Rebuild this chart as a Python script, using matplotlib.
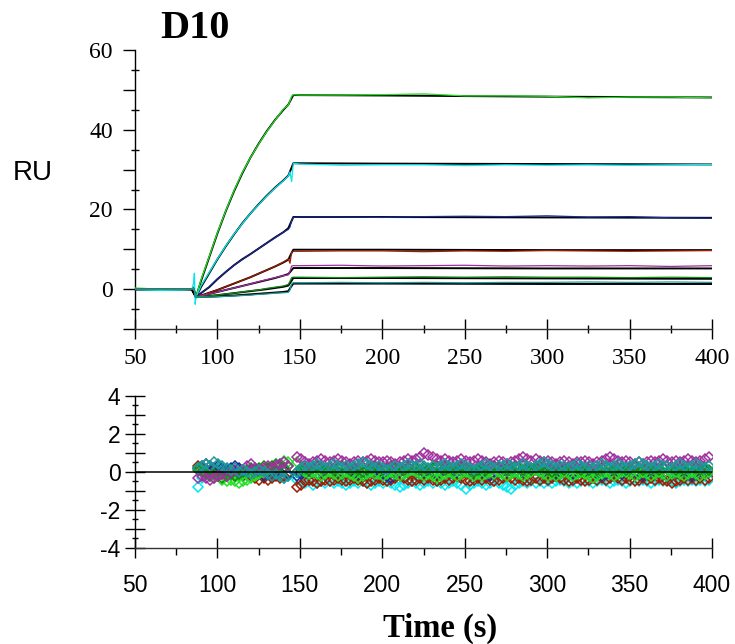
import matplotlib
matplotlib.use('Agg')
import matplotlib.pyplot as plt
from matplotlib.ticker import MultipleLocator
import numpy as np

# ---- sensorgram data (RU) ----
t_data = [50, 65, 80, 84.5, 85.5, 86, 86.5, 87, 90, 95, 100, 105, 110, 115, 120, 125, 130,
          135, 140, 143, 144, 145, 146, 150, 175, 200, 225, 250, 275, 300, 325, 350, 375, 400]
green_data = [0.3, 0.0, 0.0, 0.0, 0.6, -0.4, -1.4, -2.0, 2.3, 8.2, 14.2, 19.6, 24.7, 29.2, 33.0, 36.4, 39.6,
              42.4, 45.2, 46.2, 47.2, 48.4, 48.8, 48.7, 48.7, 48.8, 49.0, 48.5, 48.5, 48.4, 48.0, 48.2, 48.2, 48.0]
cyan_data = [-0.1, -0.3, -0.2, 0.0, 1.5, 4.0, -3.8, -2.0, 0.8, 4.2, 7.6, 10.8, 13.8, 16.4, 19.0, 21.2, 23.4,
             25.4, 27.2, 28.4, 29.4, 27.0, 31.6, 31.4, 31.1, 31.2, 31.2, 31.0, 31.2, 31.1, 31.2, 31.1, 31.2, 31.3]
navy_data = [0.1, 0.0, 0.0, 0.0, 0.3, -0.3, -1.2, -2.0, -1.0, 0.6, 2.6, 4.3, 6.0, 7.4, 8.8, 10.2, 11.6,
             12.9, 14.3, 15.0, 15.6, 17.2, 18.0, 18.1, 18.1, 18.0, 18.2, 18.3, 18.2, 18.4, 18.1, 18.2, 17.9, 17.8]
red_data = [0.0, 0.0, 0.1, 0.0, 0.2, -0.3, -1.2, -2.0, -1.6, -0.9, -0.2, 0.6, 1.4, 2.2, 3.0, 3.9, 4.8,
            5.7, 6.8, 7.6, 6.5, 9.3, 9.5, 9.5, 9.6, 9.6, 9.4, 9.6, 9.5, 9.7, 9.6, 9.5, 9.6, 9.7]
purple_data = [0.0, 0.0, 0.0, 0.0, 0.2, -0.3, -1.2, -2.0, -1.7, -1.2, -0.7, -0.2, 0.3, 0.8, 1.3, 1.9, 2.4,
               2.9, 3.4, 3.6, 4.5, 5.8, 5.9, 5.9, 6.0, 5.8, 5.9, 6.0, 5.8, 5.9, 5.8, 5.9, 5.7, 5.9]
dgreen_data = [0.0, 0.0, 0.0, 0.0, 0.2, -0.3, -1.2, -2.0, -1.9, -1.7, -1.5, -1.2, -1.0, -0.7, -0.4, -0.2, 0.2,
               0.5, 0.8, 1.2, 2.0, 2.9, 3.0, 3.0, 2.9, 3.0, 3.1, 3.0, 3.1, 3.0, 3.0, 2.9, 3.0, 2.9]
teal_data = [0.0, 0.0, 0.0, 0.0, 0.2, -0.3, -1.2, -2.0, -2.0, -2.0, -1.9, -1.8, -1.7, -1.6, -1.5, -1.3, -1.2,
             -1.0, -0.9, -0.8, -0.2, 1.3, 1.6, 1.6, 1.7, 1.6, 1.7, 1.6, 1.7, 1.7, 1.8, 1.7, 1.8, 1.7]

# ---- fitted curves ----
t_fit = [50, 84.5, 87, 90, 95, 100, 105, 110, 115, 120, 125, 130, 135, 140, 143, 144.5, 146, 200, 300, 400]
green_fit = [0, 0, -2, 2, 8, 14, 19.5, 24.5, 29, 33, 36.5, 39.7, 42.5, 45, 46.3, 47.5, 48.7, 48.6, 48.3, 48.1]
cyan_fit = [0, 0, -2, 0.5, 4, 7.5, 10.7, 13.7, 16.5, 19, 21.3, 23.5, 25.5, 27.3, 28.5, 30, 31.6, 31.5, 31.4, 31.3]
navy_fit = [0, 0, -2, -1, 0.5, 2.5, 4.3, 6, 7.5, 8.8, 10.2, 11.6, 13, 14.3, 15.3, 16.7, 18.1, 18.1, 18.0, 17.9]
red_fit = [0, 0, -2, -1.6, -0.9, -0.2, 0.6, 1.4, 2.2, 3, 3.9, 4.8, 5.7, 6.7, 7.4, 8.7, 9.9, 9.9, 9.8, 9.8]
purple_fit = [0, 0, -2, -1.7, -1.2, -0.7, -0.2, 0.3, 0.8, 1.3, 1.8, 2.3, 2.8, 3.4, 3.8, 4.5, 5.3, 5.3, 5.2, 5.2]
dgreen_fit = [0, 0, -2, -1.9, -1.7, -1.5, -1.25, -1.0, -0.75, -0.5, -0.25, 0, 0.3, 0.6, 0.9, 1.8, 2.8, 2.8, 2.7, 2.6]
teal_fit = [0, 0, -2, -1.95, -1.9, -1.8, -1.7, -1.6, -1.45, -1.3, -1.15, -1.0, -0.85, -0.7, -0.5, 0.5, 1.4, 1.4, 1.3, 1.3]

# ---- residuals (RU), sampled every 2.5 s ----
t_res_assoc = np.arange(88, 144, 2.5)     # 23 points
t_res_dissoc = np.arange(148, 399, 2.5)   # 101 points
res_assoc = {
    'purple': [-0.3, -0.2, -0.3, -0.4, -0.3, -0.2, -0.1, -0.2, 0.0, 0.1, 0.0, 0.1, 0.3, 0.4, 0.2, 0.1,
               0.2, 0.3, 0.2, 0.3, 0.4, 0.5, 0.3],
    'teal':   [0.2, 0.3, 0.4, 0.3, 0.5, 0.4, 0.3, 0.2, 0.1, 0.2, 0.0, 0.1, 0.0, -0.1, 0.0, 0.1,
               0.0, -0.1, -0.2, -0.1, -0.2, -0.3, -0.2],
    'green':  [0.2, 0.1, -0.1, -0.2, -0.3, -0.2, -0.4, -0.5, -0.4, -0.5, -0.6, -0.5, -0.4, -0.3, -0.2, -0.1,
               0.0, 0.1, 0.2, 0.3, 0.4, 0.6, 0.5],
    'dgreen': [0.1, 0.0, -0.1, -0.2, -0.1, -0.2, -0.3, -0.2, -0.1, -0.2, -0.1, 0.0, 0.1, 0.2, 0.1, 0.2,
               0.3, 0.2, 0.3, 0.4, 0.3, 0.2, 0.3],
    'navy':   [0.2, 0.3, 0.4, 0.3, 0.2, 0.3, 0.2, 0.1, 0.2, 0.3, 0.2, 0.1, 0.0, 0.1, 0.0, -0.1,
               -0.2, -0.1, -0.2, -0.1, 0.0, 0.1, -0.1],
    'red':    [0.3, 0.2, 0.1, 0.0, 0.1, 0.0, -0.1, 0.0, -0.1, -0.2, -0.1, -0.2, -0.1, -0.2, -0.3, -0.4,
               -0.3, -0.4, -0.3, -0.2, -0.3, -0.2, -0.1],
    'cyan':   [-0.8, -0.3, 0.0, 0.1, 0.2, 0.1, 0.0, 0.1, 0.0, -0.1, 0.0, -0.1, -0.2, -0.1, 0.0, -0.1,
               0.0, -0.1, -0.2, -0.1, -0.2, -0.3, -0.2],
}
res_dissoc = {
    'purple': [0.8, 0.7, 0.5, 0.4, 0.5, 0.6, 0.7, 0.6, 0.5, 0.6,
               0.7, 0.6, 0.5, 0.4, 0.5, 0.6, 0.5, 0.6, 0.7, 0.6,
               0.5, 0.5, 0.6, 0.5, 0.4, 0.5, 0.6, 0.7, 0.6, 0.7,
               0.8, 1.0, 0.9, 0.8, 0.7, 0.6, 0.7, 0.6, 0.5, 0.6,
               0.7, 0.6, 0.5, 0.6, 0.7, 0.6, 0.5, 0.4, 0.5, 0.6,
               0.5, 0.4, 0.5, 0.6, 0.7, 0.8, 0.7, 0.6, 0.7, 0.6,
               0.5, 0.6, 0.5, 0.4, 0.5, 0.6, 0.5, 0.4, 0.5, 0.5,
               0.6, 0.5, 0.4, 0.5, 0.6, 0.7, 0.8, 0.7, 0.6, 0.5,
               0.6, 0.5, 0.4, 0.5, 0.4, 0.5, 0.6, 0.5, 0.6, 0.7,
               0.6, 0.5, 0.6, 0.5, 0.6, 0.7, 0.6, 0.5, 0.6, 0.7, 0.8],
    'teal':   [0.0, 0.2, 0.3, 0.2, 0.3, 0.4, 0.3, 0.2, 0.3, 0.4,
               0.3, 0.2, 0.3, 0.2, 0.3, 0.4, 0.5, 0.4, 0.3, 0.2,
               0.3, 0.2, 0.1, 0.2, 0.3, 0.2, 0.3, 0.4, 0.3, 0.3,
               0.4, 0.3, 0.2, 0.3, 0.2, 0.3, 0.4, 0.3, 0.2, 0.3,
               0.4, 0.3, 0.2, 0.1, 0.2, 0.3, 0.4, 0.3, 0.2, 0.3,
               0.3, 0.4, 0.3, 0.2, 0.3, 0.4, 0.3, 0.2, 0.3, 0.4,
               0.5, 0.4, 0.3, 0.2, 0.3, 0.3, 0.2, 0.3, 0.4, 0.3,
               0.2, 0.3, 0.2, 0.3, 0.4, 0.3, 0.2, 0.3, 0.4, 0.3,
               0.2, 0.3, 0.4, 0.5, 0.4, 0.3, 0.2, 0.3, 0.4, 0.3,
               0.3, 0.2, 0.3, 0.4, 0.3, 0.2, 0.3, 0.4, 0.3, 0.2, 0.3],
    'green':  [0.5, 0.2, 0.0, -0.1, 0.0, -0.1, -0.2, -0.1, 0.0, -0.1,
               -0.2, -0.1, 0.0, -0.1, -0.2, -0.3, -0.2, -0.1, 0.0, -0.1,
               -0.1, -0.2, -0.1, 0.0, -0.1, -0.2, -0.1, 0.0, 0.1, 0.0,
               -0.1, -0.2, -0.1, -0.2, -0.3, -0.2, -0.1, 0.0, -0.1, -0.2,
               -0.1, 0.0, -0.1, -0.2, -0.1, -0.2, -0.1, 0.0, -0.1, 0.0,
               -0.1, -0.2, -0.1, 0.0, -0.1, -0.2, -0.1, 0.0, 0.1, 0.0,
               -0.1, -0.2, -0.1, -0.2, -0.1, 0.0, -0.1, -0.2, -0.1, 0.0,
               -0.1, -0.2, -0.3, -0.2, -0.1, 0.0, -0.1, -0.2, -0.1, 0.0,
               0.0, -0.1, -0.2, -0.1, 0.0, -0.1, -0.2, -0.1, 0.0, -0.1,
               -0.2, -0.1, 0.0, -0.1, -0.2, -0.1, 0.0, -0.1, -0.2, -0.1, 0.0],
    'dgreen': [0.0, 0.1, 0.2, 0.1, 0.2, 0.3, 0.2, 0.1, 0.2, 0.1,
               0.2, 0.3, 0.2, 0.1, 0.2, 0.1, 0.0, 0.1, 0.2, 0.3,
               0.2, 0.1, 0.2, 0.3, 0.2, 0.2, 0.1, 0.2, 0.3, 0.2,
               0.1, 0.2, 0.1, 0.2, 0.3, 0.2, 0.1, 0.2, 0.1, 0.2,
               0.3, 0.2, 0.1, 0.0, 0.1, 0.2, 0.1, 0.2, 0.3, 0.2,
               0.2, 0.1, 0.2, 0.3, 0.2, 0.1, 0.2, 0.1, 0.2, 0.3,
               0.2, 0.1, 0.0, 0.1, 0.2, 0.1, 0.2, 0.3, 0.2, 0.1,
               0.2, 0.1, 0.2, 0.1, 0.2, 0.3, 0.2, 0.1, 0.2, 0.2,
               0.1, 0.2, 0.3, 0.2, 0.1, 0.2, 0.1, 0.2, 0.1, 0.2,
               0.3, 0.2, 0.1, 0.2, 0.1, 0.2, 0.3, 0.2, 0.1, 0.2, 0.1],
    'navy':   [-0.2, -0.1, 0.0, 0.1, 0.0, -0.1, 0.0, 0.1, 0.0, 0.1,
               0.0, -0.1, 0.0, 0.1, 0.0, -0.1, -0.2, -0.1, 0.0, 0.1,
               0.0, -0.1, -0.2, -0.3, -0.1, 0.0, 0.1, 0.0, 0.1, 0.0,
               -0.1, 0.0, 0.1, 0.0, -0.1, 0.0, 0.1, 0.0, -0.1, 0.0,
               0.1, 0.0, -0.1, 0.0, 0.1, 0.0, -0.1, -0.2, -0.1, 0.0,
               0.1, 0.0, 0.1, 0.0, -0.1, 0.0, 0.1, 0.2, 0.1, 0.0,
               0.0, 0.1, 0.0, -0.1, 0.0, 0.1, 0.0, -0.1, 0.0, 0.1,
               0.0, 0.1, 0.0, -0.1, -0.2, -0.1, 0.0, 0.1, 0.0, -0.1,
               0.0, 0.1, 0.0, -0.1, -0.2, -0.1, 0.0, 0.1, 0.0, -0.1,
               -0.2, -0.1, 0.0, 0.1, 0.0, -0.1, -0.2, -0.1, 0.0, 0.1, 0.0],
    'red':    [-0.8, -0.7, -0.5, -0.4, -0.5, -0.6, -0.5, -0.4, -0.5, -0.4,
               -0.3, -0.4, -0.5, -0.4, -0.3, -0.4, -0.5, -0.6, -0.5, -0.4,
               -0.3, -0.4, -0.5, -0.4, -0.3, -0.2, -0.3, -0.4, -0.5, -0.4,
               -0.3, -0.4, -0.3, -0.4, -0.5, -0.4, -0.3, -0.4, -0.3, -0.2,
               -0.3, -0.4, -0.5, -0.4, -0.3, -0.4, -0.3, -0.4, -0.5, -0.4,
               -0.3, -0.2, -0.3, -0.4, -0.3, -0.4, -0.5, -0.4, -0.3, -0.4,
               -0.3, -0.4, -0.3, -0.2, -0.3, -0.4, -0.5, -0.4, -0.3, -0.4,
               -0.5, -0.4, -0.3, -0.4, -0.3, -0.4, -0.3, -0.2, -0.3, -0.4,
               -0.3, -0.4, -0.5, -0.4, -0.3, -0.4, -0.3, -0.4, -0.3, -0.4,
               -0.5, -0.6, -0.5, -0.4, -0.3, -0.4, -0.3, -0.4, -0.3, -0.4, -0.3],
    'cyan':   [-0.4, -0.5, -0.6, -0.5, -0.7, -0.6, -0.5, -0.6, -0.5, -0.6,
               -0.5, -0.6, -0.7, -0.6, -0.5, -0.6, -0.5, -0.6, -0.7, -0.6,
               -0.5, -0.6, -0.5, -0.6, -0.7, -0.8, -0.7, -0.6, -0.5, -0.6,
               -0.7, -0.6, -0.5, -0.6, -0.5, -0.6, -0.7, -0.6, -0.5, -0.6,
               -0.7, -0.9, -0.7, -0.6, -0.5, -0.6, -0.7, -0.6, -0.5, -0.6,
               -0.7, -0.8, -0.9, -0.7, -0.6, -0.5, -0.6, -0.5, -0.6, -0.5,
               -0.6, -0.5, -0.6, -0.5, -0.4, -0.5, -0.6, -0.5, -0.6, -0.5,
               -0.4, -0.5, -0.6, -0.5, -0.4, -0.5, -0.6, -0.5, -0.4, -0.5,
               -0.6, -0.5, -0.4, -0.5, -0.4, -0.5, -0.6, -0.5, -0.4, -0.5,
               -0.4, -0.5, -0.6, -0.5, -0.4, -0.5, -0.4, -0.5, -0.4, -0.5, -0.4],
}

colors = {'green': '#22e022', 'cyan': '#00e8f0', 'navy': '#1a2a9a', 'red': '#a01c00',
          'purple': '#a030a0', 'dgreen': '#108a10', 'teal': '#1a9a9a'}

series = [('green', green_data, green_fit), ('cyan', cyan_data, cyan_fit),
          ('navy', navy_data, navy_fit), ('red', red_data, red_fit),
          ('purple', purple_data, purple_fit), ('dgreen', dgreen_data, dgreen_fit),
          ('teal', teal_data, teal_fit)]

SERIF = 'Liberation Serif'
SANS = 'Liberation Sans'

fig = plt.figure(figsize=(7.35, 6.44), dpi=100)
ax1 = fig.add_axes([0.1837, 0.4891, 0.785, 0.4332])
ax2 = fig.add_axes([0.1837, 0.1491, 0.785, 0.236])

# black fits under the coloured measured curves
for name, d, f in series:
    ax1.plot(t_fit, f, color='black', lw=1.4, zorder=2)
for name, d, f in series:
    ax1.plot(t_data, d, color=colors[name], lw=0.9, zorder=3)

ax1.set_xlim(50, 400)
ax1.set_ylim(-10, 60)
ax1.xaxis.set_major_locator(MultipleLocator(50))
ax1.xaxis.set_minor_locator(MultipleLocator(25))
ax1.yaxis.set_minor_locator(MultipleLocator(5))
ax1.set_yticks([-10, 0, 10, 20, 30, 40, 50, 60])
ax1.set_yticklabels(['', '0', '', '20', '', '40', '', '60'])

for ax in (ax1, ax2):
    ax.spines['top'].set_visible(False)
    ax.spines['right'].set_visible(False)
    ax.spines['left'].set_linewidth(1.0)
    ax.spines['bottom'].set_linewidth(1.0)
    ax.spines['bottom'].set_color('#333333')

ax1.tick_params(axis='x', which='major', direction='inout', length=14, width=1, pad=7)
ax1.tick_params(axis='x', which='minor', direction='inout', length=6, width=1)
ax1.tick_params(axis='y', which='major', direction='out', length=9, width=1, pad=7)
ax1.tick_params(axis='y', which='minor', direction='inout', length=6, width=1)
for lab in ax1.get_xticklabels() + ax1.get_yticklabels():
    lab.set_fontfamily(SERIF)
    lab.set_fontsize(17)

# residuals
order = ['cyan', 'red', 'navy', 'green', 'dgreen', 'purple', 'teal']
for name in order:
    ax2.plot(t_res_assoc, res_assoc[name], ls='none', marker='D', ms=5, mfc='none',
             mec=colors[name], mew=1.1, zorder=2)
    ax2.plot(t_res_dissoc, res_dissoc[name], ls='none', marker='D', ms=5, mfc='none',
             mec=colors[name], mew=1.1, zorder=2)
ax2.axhline(0, color='black', lw=1.1, zorder=3)

ax2.set_xlim(50, 400)
ax2.set_ylim(-4, 4)
ax2.xaxis.set_major_locator(MultipleLocator(50))
ax2.xaxis.set_minor_locator(MultipleLocator(25))
ax2.set_yticks([-4, -3, -2, -1, 0, 1, 2, 3, 4])
ax2.set_yticklabels(['-4', '', '-2', '', '0', '', '2', '', '4'])
ax2.yaxis.set_minor_locator(MultipleLocator(0.5))
ax2.tick_params(axis='x', which='major', direction='inout', length=15, width=1, pad=11)
ax2.tick_params(axis='x', which='minor', direction='out', length=5, width=1)
ax2.tick_params(axis='y', which='major', direction='inout', length=15, width=1, pad=3)
ax2.tick_params(axis='y', which='minor', direction='inout', length=5, width=1)
for lab in ax2.get_xticklabels() + ax2.get_yticklabels():
    lab.set_fontfamily(SANS)
    lab.set_fontsize(16.5)

fig.text(195 / 735, 1 - 28 / 644, 'D10', fontfamily=SERIF, fontweight='bold', fontsize=29,
         ha='center', va='center')
fig.text(33 / 735, 1 - 173 / 644, 'RU', fontfamily=SANS, fontsize=20, ha='center', va='center')
fig.text(440 / 735, 1 - 628 / 644, 'Time (s)', fontfamily=SERIF, fontweight='bold', fontsize=23.5,
         ha='center', va='center')

fig.savefig('out.png', dpi=100)
